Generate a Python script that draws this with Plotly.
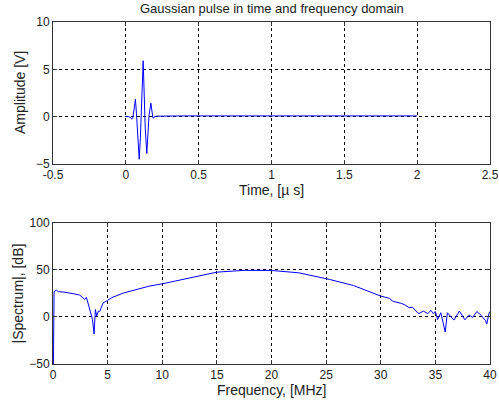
import plotly.graph_objects as go

# ---- data: pulse in time domain (µs, V) ----
time_us = [0.0, 0.02, 0.033, 0.041, 0.049, 0.057, 0.066, 0.073, 0.080, 0.092,
           0.100, 0.107, 0.119, 0.126, 0.133, 0.144, 0.152, 0.159, 0.172, 0.179,
           0.185, 0.190, 0.197, 0.21, 0.25, 0.4, 0.6, 0.8, 1.0, 1.2, 1.4, 1.6, 1.8, 2.0]
amplitude_v = [0.0, 0.0, -0.1, -0.27, -0.05, 0.7, 1.84, 0.3, -1.8, -4.5,
               -2.2, 0.8, 5.9, 2.4, -1.2, -3.9, -1.6, 0.1, 1.42, 0.5,
               -0.05, -0.17, 0.0, 0.05, 0.07, 0.08, 0.08, 0.08, 0.08, 0.08, 0.08, 0.08, 0.08, 0.08]

# ---- data: spectrum (MHz, dB) ----
freq_mhz = [0.0, 0.1, 0.31, 0.5, 1.0, 1.53, 2.0, 2.45, 2.75, 2.9, 3.06, 3.2, 3.43, 3.61,
            3.76, 3.85, 3.88, 4.0, 4.16, 4.28, 4.44, 4.59, 5.0, 5.36, 6.42, 7.95, 8.8,
            10.0, 12.5, 15.0, 17.5, 18.5, 20.0, 22.5, 25.0, 25.3, 27.5, 30.0, 30.8, 31.1,
            31.9, 32.2, 32.6, 32.9, 33.2, 33.5, 33.9, 34.3, 34.6, 34.8, 35.0, 35.2, 35.5,
            35.9, 36.1, 36.4, 36.7, 37.2, 37.7, 38.1, 38.4, 38.8, 39.2, 39.6, 39.7, 39.9, 40.0]
spectrum_db = [-100.0, 27.0, 28.6, 26.9, 26.5, 25.8, 24.5, 23.3, 20.5, 18.7, 21.0, 15.0, 8.0, -2.5,
               -18.0, -2.5, 8.0, 1.0, 6.3, 6.0, 11.0, 15.0, 17.7, 20.5, 25.4, 30.0, 32.8,
               35.3, 41.7, 47.7, 49.6, 49.8, 49.5, 47.0, 40.7, 40.0, 33.5, 22.3, 19.8, 16.8,
               14.4, 13.0, 9.9, 10.5, 6.4, 3.6, 6.3, 3.6, 7.0, 3.6, 5.9, -2.8, 4.5,
               -16.0, 4.5, 1.0, -3.3, 6.3, -3.0, 2.1, -0.5, 5.8, 1.7, -4.0, -7.6, 3.4, 5.8]

# ---- tick labels ----
time_ticks = [-0.5, 0, 0.5, 1, 1.5, 2, 2.5]
amp_ticks = [-5, 0, 5, 10]
freq_ticks = [0, 5, 10, 15, 20, 25, 30, 35, 40]
db_ticks = [-50, 0, 50, 100]

FONT = "Liberation Sans, Arial, sans-serif"
BLUE = "#0000ff"
TXT = "#222222"

fig = go.Figure()
fig.add_trace(go.Scatter(x=time_us, y=amplitude_v, mode="lines",
                         line=dict(color=BLUE, width=1), xaxis="x", yaxis="y",
                         showlegend=False))
fig.add_trace(go.Scatter(x=freq_mhz, y=spectrum_db, mode="lines",
                         line=dict(color=BLUE, width=1), xaxis="x2", yaxis="y2",
                         showlegend=False, cliponaxis=True))

axis_common = dict(
    showline=True, linecolor="#333333", linewidth=1, mirror="ticks",
    ticks="inside", ticklen=4, tickcolor="#333333",
    showgrid=True, gridcolor="#000000", gridwidth=1, griddash="dot",
    zeroline=False, automargin=False, ticklabeloverflow="allow",
    tickfont=dict(family=FONT, size=12, color=TXT),
)

def label(text, xref, yref, x, y, xshift=0, yshift=0, angle=0, size=14):
    return dict(text=text, xref=xref, yref=yref, x=x, y=y, xshift=xshift, yshift=yshift,
                textangle=angle, xanchor="center", yanchor="middle", showarrow=False,
                font=dict(family=FONT, size=size, color=TXT))

fig.update_layout(
    width=499, height=406,
    margin=dict(l=53, r=9, t=22, b=42),
    paper_bgcolor="white", plot_bgcolor="white",
    font=dict(family=FONT, size=12, color=TXT),
    xaxis=dict(domain=[0, 1], anchor="y", range=[-0.5, 2.5], tickvals=time_ticks,
               ticktext=[str(v) for v in time_ticks], **axis_common),
    yaxis=dict(domain=[0.5848, 1], anchor="x", range=[-5, 10], tickvals=amp_ticks,
               **axis_common),
    xaxis2=dict(domain=[0, 1], anchor="y2", range=[0, 40], tickvals=freq_ticks,
                **axis_common),
    yaxis2=dict(domain=[0, 0.4123], anchor="x2", range=[-50, 100], tickvals=db_ticks,
                **axis_common),
    annotations=[
        label("Gaussian pulse in time and frequency domain", "x domain", "y domain",
              0.5, 1.0, yshift=14, size=13),
        label("Time, [\u00b5 s]", "x domain", "y domain", 0.5, 0.0, yshift=-26),
        label("Amplitude [V]", "x domain", "y domain", 0.0, 0.5, xshift=-33, angle=-90),
        label("Frequency, [MHz]", "x2 domain", "y2 domain", 0.5, 0.0, yshift=-26),
        label("|Spectrum|, [dB]", "x2 domain", "y2 domain", 0.0, 0.5, xshift=-35, angle=-90),
    ],
)

# remove the browser's default 8px body margin so the figure sits at the page origin
fig.write_html("out.html",
               config={"displayModeBar": False},
               post_script="document.body.style.margin='0';document.body.style.overflow='hidden';")
